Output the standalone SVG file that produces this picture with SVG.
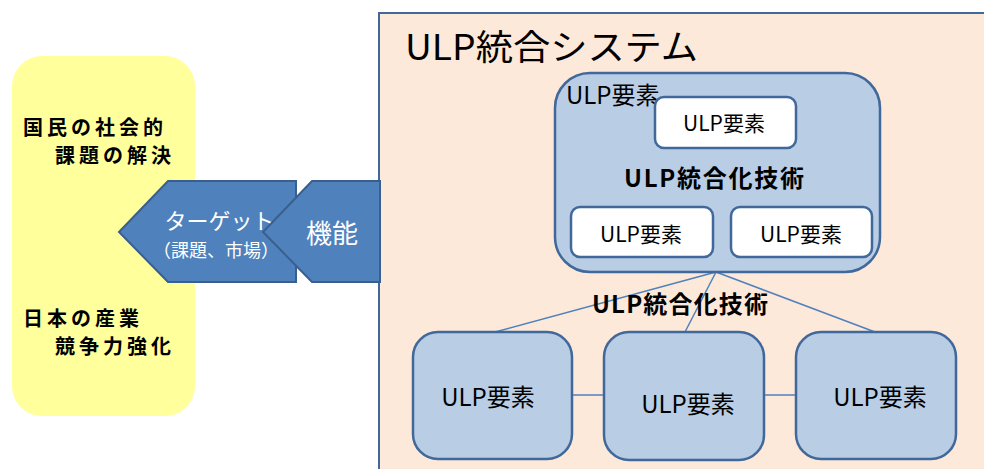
<svg xmlns="http://www.w3.org/2000/svg" width="984" height="469" viewBox="0 0 984 469">
<style>
text{font-family:"Noto Sans CJK JP","Noto Sans",sans-serif;fill:#000}
.wt{fill:#fff}
.bold{font-weight:bold}
.elem-lg{fill:#B9CDE5;stroke:#41689A;stroke-width:2.5}
.elem-w{fill:#fff;stroke:#41689A;stroke-width:2.5}
.arrow{fill:#4F81BD;stroke:#3A5F8E;stroke-width:2}
.conn{stroke:#4F81BD;stroke-width:1.5;fill:none}
</style>
<rect width="984" height="469" fill="#fff"/>
<g id="goals">
<rect x="12" y="56" width="183" height="360" rx="30" fill="#FFFF9C"/>
<text x="23" y="135" font-size="20" letter-spacing="4" class="bold">国民の社会的</text>
<text x="55" y="163" font-size="20" letter-spacing="4" class="bold">課題の解決</text>
<text x="23" y="326" font-size="20" letter-spacing="4" class="bold">日本の産業</text>
<text x="55" y="354" font-size="20" letter-spacing="4" class="bold">競争力強化</text>
</g>
<g id="system">
<rect x="379" y="13" width="620" height="470" fill="#FDE9D9" stroke="#41689A" stroke-width="2"/>
<text x="405" y="60" font-size="35" textLength="293" lengthAdjust="spacingAndGlyphs">ULP統合システム</text>
</g>
<g id="target">
<polygon class="arrow" points="119,232 168,181 296,181 296,282 168,282"/>
<text x="219.5" y="229" font-size="22" text-anchor="middle" class="wt">ターゲット</text>
<text x="216" y="257" font-size="18" text-anchor="middle" class="wt">（課題、市場）</text>
</g>
<g id="function">
<polygon class="arrow" points="263,232 312,181 380,181 380,282 312,282"/>
<text x="332" y="243" font-size="26" text-anchor="middle" class="wt">機能</text>
</g>
<g id="connectors">
<line class="conn" x1="725" y1="148" x2="643" y2="207"/>
<line class="conn" x1="725" y1="148" x2="800" y2="207"/>
<line class="conn" x1="713" y1="232" x2="731" y2="232"/>
<line class="conn" x1="716" y1="272" x2="495" y2="332"/>
<line class="conn" x1="716" y1="272" x2="685" y2="332"/>
<line class="conn" x1="716" y1="272" x2="875" y2="332"/>
<line class="conn" x1="572" y1="395" x2="604" y2="395"/>
<line class="conn" x1="764" y1="395" x2="796" y2="395"/>
</g>
<g id="composite">
<rect class="elem-lg" x="555" y="73" width="325" height="199" rx="35"/>
<text x="566" y="104" font-size="24">ULP要素</text>
</g>
<g id="inner-top">
<rect class="elem-w" x="655" y="97" width="141" height="51" rx="9"/>
<text x="724" y="131" font-size="21" text-anchor="middle">ULP要素</text>
</g>
<g id="inner-left">
<rect class="elem-w" x="571" y="207" width="142" height="50" rx="9"/>
<text x="641" y="242" font-size="21" text-anchor="middle">ULP要素</text>
</g>
<g id="inner-right">
<rect class="elem-w" x="731" y="207" width="141" height="50" rx="9"/>
<text x="801" y="242" font-size="21" text-anchor="middle">ULP要素</text>
</g>
<g id="label-inner">
<text x="714" y="187" font-size="24" text-anchor="middle" class="bold" textLength="180" lengthAdjust="spacing">ULP統合化技術</text>
</g>
<g id="label-outer">
<text x="680" y="313" font-size="24" text-anchor="middle" class="bold" textLength="176" lengthAdjust="spacing">ULP統合化技術</text>
</g>
<g id="elem-left">
<rect class="elem-lg" x="413" y="332" width="159" height="127" rx="25"/>
<text x="488" y="406" font-size="24" text-anchor="middle">ULP要素</text>
</g>
<g id="elem-mid">
<rect class="elem-lg" x="604" y="332" width="160" height="128" rx="25"/>
<text x="688" y="413" font-size="24" text-anchor="middle">ULP要素</text>
</g>
<g id="elem-right">
<rect class="elem-lg" x="796" y="332" width="160" height="127" rx="25"/>
<text x="880" y="406" font-size="24" text-anchor="middle">ULP要素</text>
</g>
</svg>
